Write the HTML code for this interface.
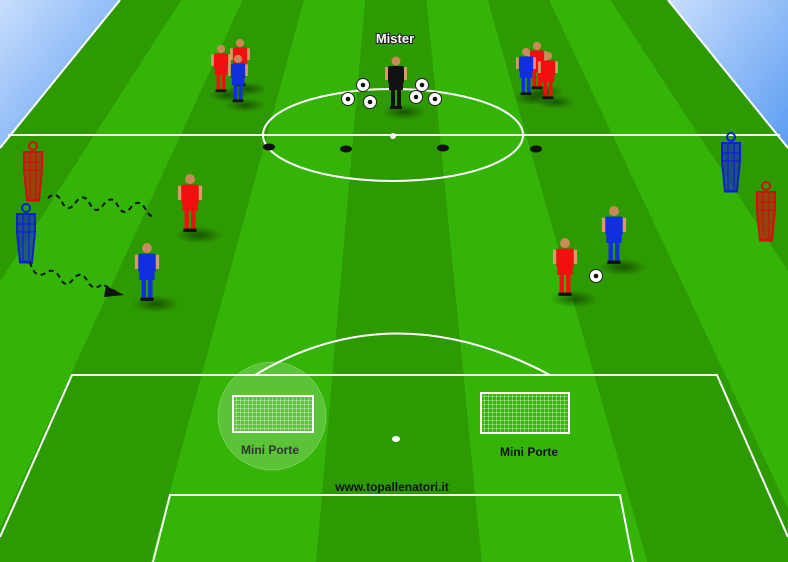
<!DOCTYPE html>
<html><head><meta charset="utf-8"><style>
html,body{margin:0;padding:0;background:#2e9a02}
svg{display:block}
text{font-family:"Liberation Sans",sans-serif;font-weight:bold}
</style></head><body>
<svg id="pitch" width="788" height="562" viewBox="0 0 788 562" xmlns="http://www.w3.org/2000/svg">
<defs>
<linearGradient id="sky" x1="0" y1="0" x2="1" y2="1"><stop offset="0" stop-color="#c8defc"/><stop offset="1" stop-color="#5b9cf2"/></linearGradient>
<radialGradient id="sh"><stop offset="0" stop-color="#000" stop-opacity="0.45"/><stop offset="1" stop-color="#000" stop-opacity="0"/></radialGradient>
<pattern id="net" width="4" height="4" patternUnits="userSpaceOnUse"><path d="M0 0H4M0 0V4" stroke="#fff" stroke-width="0.8" fill="none"/></pattern>
</defs>
<g id="stripes"></g>
<polygon points="0,0 120,0 0,148" fill="url(#sky)"/>
<polygon points="668,0 788,0 788,148" fill="url(#sky)"/>
<g stroke="#fff" stroke-width="2" fill="none">
<line x1="120" y1="0" x2="0" y2="148"/>
<line x1="668" y1="0" x2="788" y2="148"/>
<line x1="8" y1="135" x2="780" y2="135"/>
<ellipse cx="393" cy="135" rx="130" ry="46"/>
<path d="M255 375 Q393 292 550 375"/>
<path d="M0 537 L72 375 L717 375 L788 537"/>
<path d="M153 562 L170 495 L620 495 L633 562"/>
</g>
<circle cx="393" cy="136" r="3" fill="#fff"/>
<ellipse cx="396" cy="439" rx="4" ry="3" fill="#fff"/>
<circle cx="272" cy="416" r="54" fill="#fff" fill-opacity="0.2" stroke="#fff" stroke-opacity="0.25"/>
<g><rect x="233" y="396" width="80" height="36" fill="url(#net)" opacity="0.9"/><rect x="233" y="396" width="80" height="36" fill="none" stroke="#fff" stroke-width="2"/></g>
<g><rect x="481" y="393" width="88" height="40" fill="url(#net)" opacity="0.9"/><rect x="481" y="393" width="88" height="40" fill="none" stroke="#fff" stroke-width="2"/></g>
<text x="270" y="454" font-size="12" fill="#333" text-anchor="middle">Mini Porte</text>
<text x="529" y="456" font-size="12" fill="#111" text-anchor="middle">Mini Porte</text>
<text x="392" y="491" font-size="12" fill="#111" text-anchor="middle">www.topallenatori.it</text>
<text x="395" y="43" font-size="13" fill="#fff" stroke="#222" stroke-width="2" paint-order="stroke" text-anchor="middle">Mister</text>
<g fill="#111">
<ellipse cx="269" cy="147" rx="6" ry="3.5"/><ellipse cx="346" cy="149" rx="6" ry="3.5"/><ellipse cx="443" cy="148" rx="6" ry="3.5"/><ellipse cx="536" cy="149" rx="6" ry="3.5"/></g>
<g id="people"></g>
<g stroke="#111" stroke-width="2" stroke-dasharray="5,4" fill="none">
<path d="M48 198 q8 -8 14 4 q6 12 14 0 q8 -10 14 2 q6 12 14 0 q8 -10 14 2 q6 12 14 0 q8 -8 14 4 q4 8 10 6"/>
<path d="M30 262 q4 16 14 12 q10 -8 16 4 q6 12 14 0 q8 -8 14 4 q6 10 14 2 l18 10"/>
</g>
<polygon points="124,295 106,286 104,297" fill="#111"/>
<script>
var NS="http://www.w3.org/2000/svg";
function mk(t,a,p){var e=document.createElementNS(NS,t);for(var k in a)e.setAttribute(k,a[k]);(p||document.getElementById('pitch')).appendChild(e);return e;}
var sg=document.getElementById('stripes');
function X(x0,y){return 394+(x0-394)*(1+0.83*y/274);}
for(var k=-6;k<16;k++){
 var a=120+61.3*k,b=a+61.3;
 mk('polygon',{points:X(a,0)+',0 '+X(b,0)+',0 '+X(b,562)+',562 '+X(a,562)+',562',fill:(k%2===0)?'#2e9a02':'#33b406'},sg);
}
var pg=document.getElementById('people');
function player(x,y,col,s,name){
 var g=mk('g',{},pg);
 
 
 s=s||1;
 mk('ellipse',{cx:x+8*s,cy:y+2,rx:22*s,ry:8*s,fill:'url(#sh)'},g);
 mk('rect',{x:x-5*s,y:y-22*s,width:4*s,height:20*s,fill:col},g);
 mk('rect',{x:x+1*s,y:y-22*s,width:4*s,height:20*s,fill:col},g);
 mk('rect',{x:x-8*s,y:y-44*s,width:16*s,height:17*s,rx:2,fill:col},g);
 mk('rect',{x:x-7*s,y:y-29*s,width:14*s,height:9*s,fill:col},g);
 mk('rect',{x:x-11*s,y:y-43*s,width:3*s,height:13*s,fill:'#d89a6a'},g);
 mk('rect',{x:x+8*s,y:y-43*s,width:3*s,height:13*s,fill:'#d89a6a'},g);
 mk('rect',{x:x-6*s,y:y-4*s,width:12*s,height:3*s,fill:'#111'},g);
 mk('circle',{cx:x,cy:y-49*s,r:4.5*s,fill:'#c98a5a'},g);
}
var R='#f01010',B='#1030e0';
player(221,93,R,0.9,'red-player-group-left-1');player(240,87,R,0.9,'red-player-group-left-2');player(238,103,B,0.9,'blue-player-group-left');
player(537,90,R,0.9,'red-player-group-right-1');player(548,100,R,0.9,'red-player-group-right-2');player(526,96,B,0.9,'blue-player-group-right');
player(396,110,'#111',1,'coach-mister');
player(190,233,R,1.1,'red-attacker-left');player(147,302,B,1.1,'blue-player-left');
player(565,297,R,1.1,'red-attacker-right');player(614,265,B,1.1,'blue-player-right');
var balls=[[363,85],[348,99],[370,102],[422,85],[416,97],[435,99],[596,276]];
balls.forEach(function(p){var c=mk('circle',{cx:p[0],cy:p[1],r:6.5,fill:'#fff',stroke:'#222','stroke-width':1});mk('circle',{cx:p[0],cy:p[1],r:2.3,fill:'#111'});});
function manq(x,y,col,name){
 var g=mk('g',{},pg);
 
 
 mk('circle',{cx:x,cy:y-54,r:4,fill:'none',stroke:col,'stroke-width':2},g);
 mk('path',{d:'M'+(x-9)+' '+(y-48)+' h18 v18 l-3 30 h-12 l-3 -30 z',fill:col,'fill-opacity':0.6,stroke:col,'stroke-width':2},g);
 mk('path',{d:'M'+(x-3)+' '+(y-48)+' v46 M'+(x+3)+' '+(y-48)+' v46 M'+(x-9)+' '+(y-38)+' h18 M'+(x-9)+' '+(y-30)+' h18',stroke:col,'stroke-width':1.2,fill:'none'},g);
 mk('line',{x1:x-7,y1:y,x2:x+7,y2:y,stroke:col,'stroke-width':3},g);
}
manq(33,200,'#d01010','mannequin-red-left');manq(26,262,'#1020d0','mannequin-blue-left');
manq(731,191,'#1020d0','mannequin-blue-right');manq(766,240,'#d01010','mannequin-red-right');
</script>
</svg>
</body></html>
